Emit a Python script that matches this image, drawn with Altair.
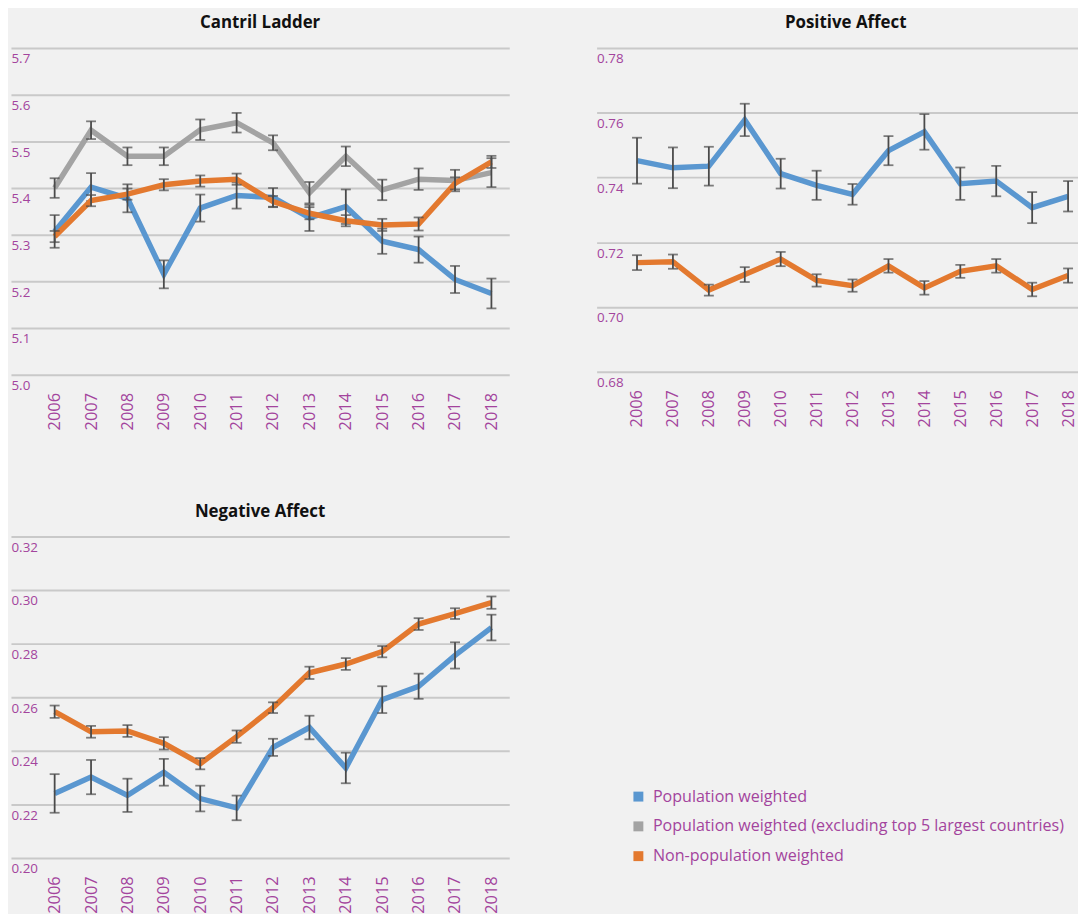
import altair as alt
import pandas as pd

years = list(range(2006, 2019))
series_names = [
    "Population weighted",
    "Population weighted (excluding top 5 largest countries)",
    "Non-population weighted",
]
series_colors = ["#5A97D0", "#A3A3A3", "#E3792F"]

# Cantril Ladder
cl_pop = [5.307, 5.402, 5.378, 5.215, 5.357, 5.384, 5.380, 5.336, 5.360, 5.286, 5.268, 5.204, 5.174]
cl_pop_err = [0.035, 0.030, 0.030, 0.030, 0.029, 0.028, 0.020, 0.028, 0.037, 0.027, 0.028, 0.029, 0.032]
cl_excl = [5.400, 5.524, 5.468, 5.468, 5.525, 5.540, 5.497, 5.390, 5.468, 5.396, 5.419, 5.416, 5.433]
cl_excl_err = [0.021, 0.019, 0.019, 0.019, 0.022, 0.021, 0.016, 0.023, 0.021, 0.022, 0.023, 0.023, 0.031]
cl_non = [5.296, 5.373, 5.387, 5.407, 5.415, 5.419, 5.371, 5.346, 5.330, 5.321, 5.323, 5.410, 5.456]
cl_non_err = [0.012, 0.012, 0.012, 0.012, 0.012, 0.012, 0.012, 0.013, 0.012, 0.013, 0.014, 0.013, 0.013]
cl_ticks = [5.0, 5.1, 5.2, 5.3, 5.4, 5.5, 5.6, 5.7]

# Positive Affect
pa_pop = [0.7452, 0.7430, 0.7435, 0.7578, 0.7412, 0.7376, 0.7348, 0.7483, 0.7541, 0.7381, 0.7389, 0.7307, 0.7342]
pa_pop_err = [0.0071, 0.0063, 0.0060, 0.0050, 0.0046, 0.0045, 0.0032, 0.0045, 0.0055, 0.0050, 0.0047, 0.0048, 0.0047]
pa_non = [0.7137, 0.7140, 0.7052, 0.7100, 0.7148, 0.7082, 0.7066, 0.7127, 0.7059, 0.7110, 0.7127, 0.7054, 0.7097]
pa_non_err = [0.0023, 0.0022, 0.0017, 0.0023, 0.0022, 0.0019, 0.0019, 0.0021, 0.0021, 0.0020, 0.0021, 0.0021, 0.0022]
pa_ticks = [0.68, 0.70, 0.72, 0.74, 0.76, 0.78]

# Negative Affect
na_pop = [0.2241, 0.2302, 0.2234, 0.2320, 0.2222, 0.2187, 0.2413, 0.2487, 0.2336, 0.2591, 0.2641, 0.2756, 0.2860]
na_pop_err = [0.0072, 0.0064, 0.0062, 0.0050, 0.0048, 0.0046, 0.0032, 0.0044, 0.0057, 0.0050, 0.0047, 0.0049, 0.0048]
na_non = [0.2546, 0.2471, 0.2474, 0.2428, 0.2352, 0.2453, 0.2561, 0.2691, 0.2724, 0.2770, 0.2873, 0.2912, 0.2953]
na_non_err = [0.0023, 0.0022, 0.0022, 0.0023, 0.0021, 0.0023, 0.0020, 0.0023, 0.0022, 0.0021, 0.0022, 0.0020, 0.0023]
na_ticks = [0.20, 0.22, 0.24, 0.26, 0.28, 0.30, 0.32]

PURPLE = "#A3449D"
FONT = "Open Sans"
ERR = "#4A4A4A"


def make_df(entries):
    rows = []
    for name, vals, errs in entries:
        for yr, v, e in zip(years, vals, errs):
            rows.append({"series": name, "year": yr, "value": v, "lo": v - e, "hi": v + e})
    return pd.DataFrame(rows)


legend = alt.Legend(
    title=None, orient="none", legendX=624, legendY=746, direction="vertical",
    symbolType="square", symbolSize=25, symbolStrokeWidth=5,
    labelFont=FONT, labelFontSize=16.2, labelColor=PURPLE, labelLimit=800,
    rowPadding=4, labelOffset=6.5,
)
color_scale = alt.Scale(domain=series_names, range=series_colors)


def panel(entries, title, ticks, fmt, height, xdomain):
    df = make_df(entries)
    base = alt.Chart(df)
    x = alt.X("year:Q", scale=alt.Scale(domain=xdomain, nice=False, zero=False),
              axis=alt.Axis(values=years, format="d", labelAngle=270, grid=False, domain=False,
                            ticks=False, labelPadding=18, title=None, labelFontSize=16.5,
                            labelColor=PURPLE, labelFont=FONT))
    y_scale = alt.Scale(domain=[ticks[0], ticks[-1]], nice=False, zero=False)
    y_axis = alt.Axis(values=ticks, format=fmt, grid=True, gridColor="#C9C9C9", gridWidth=2,
                      domain=False, ticks=False, labelAlign="left", labelBaseline="top",
                      labelPadding=0, labelOffset=4, title=None, labelFontSize=13.5,
                      labelColor=PURPLE, labelFont=FONT)
    layers = []
    first = True
    for name, _, _ in entries:
        sub = base.transform_filter(alt.datum.series == name)
        line = sub.mark_line(strokeWidth=5.5).encode(
            x=x if first else alt.X("year:Q"),
            y=alt.Y("value:Q", scale=y_scale, axis=y_axis) if first else alt.Y("value:Q"),
            color=alt.Color("series:N", scale=color_scale, legend=legend),
        )
        first = False
        rule = sub.mark_rule(color=ERR, strokeWidth=1.8).encode(
            x="year:Q", y="lo:Q", y2="hi:Q")
        cap_lo = sub.mark_tick(orient="horizontal", color=ERR, size=10, thickness=1.8).encode(
            x="year:Q", y="lo:Q")
        cap_hi = sub.mark_tick(orient="horizontal", color=ERR, size=10, thickness=1.8).encode(
            x="year:Q", y="hi:Q")
        layers += [line, rule, cap_lo, cap_hi]
    return alt.layer(*layers).properties(
        width=502, height=height,
        title=alt.TitleParams(title, font=FONT, fontSize=17, fontWeight="bold", color="#111111",
                              anchor="middle", offset=16),
    )


p1 = panel([(series_names[0], cl_pop, cl_pop_err),
            (series_names[1], cl_excl, cl_excl_err),
            (series_names[2], cl_non, cl_non_err)], "Cantril Ladder", cl_ticks, ".1f", 329,
           [2004.8, 2018.49])
p2 = panel([(series_names[0], pa_pop, pa_pop_err),
            (series_names[2], pa_non, pa_non_err)], "Positive Affect", pa_ticks, ".2f", 326,
           [2004.875, 2018.746])
p3 = panel([(series_names[0], na_pop, na_pop_err),
            (series_names[2], na_non, na_non_err)], "Negative Affect", na_ticks, ".2f", 324,
           [2004.8, 2018.49])

chart = alt.vconcat(
    alt.hconcat(p1, p2, spacing=88),
    p3,
    spacing=73,
).properties(
    background="#F1F1F1",
    autosize=alt.AutoSizeParams(type="none"),
    padding={"left": 3, "top": 37, "right": 1075, "bottom": 869},
).configure_view(stroke=None)

chart.save("out.html", embed_options={"renderer": "svg", "actions": False})
